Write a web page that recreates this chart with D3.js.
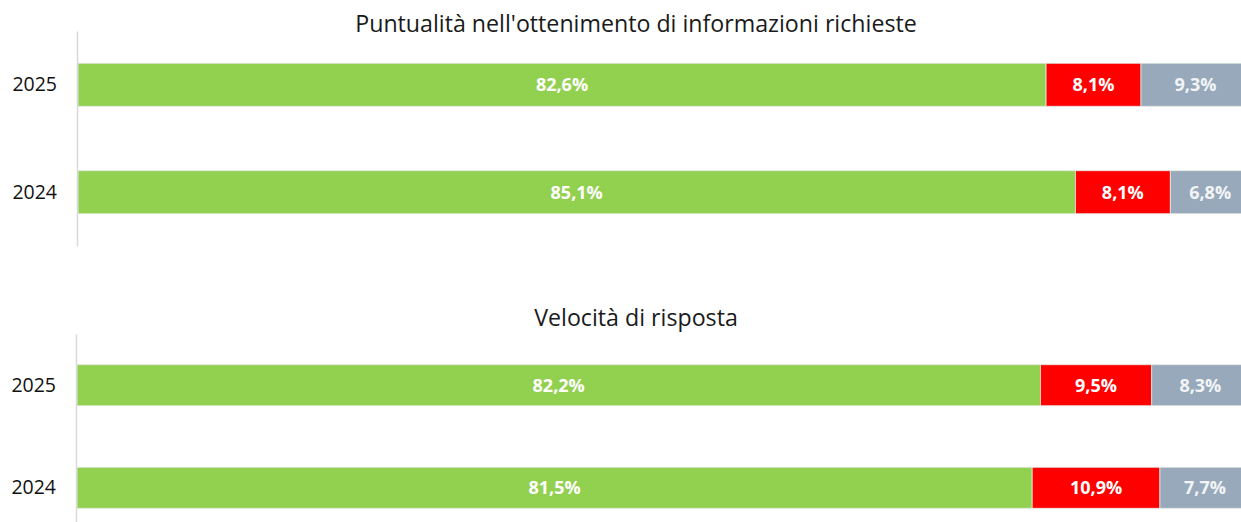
<!DOCTYPE html>
<html>
<head>
<meta charset="utf-8">
<script src="https://cdn.jsdelivr.net/npm/d3@7"></script>
<style>
  body { margin: 0; background: #fff; }
  svg { font-family: "Open Sans", sans-serif; display: block; }
</style>
</head>
<body>
<svg id="chart"></svg>
<script>
// data
var years = ["2025", "2024"];
var seriesNames = ["Positivo", "Negativo", "Non so"];
var seriesColors = ["#92d050", "#ff0000", "#97a9ba"];

var puntualitaPos = [82.6, 85.1],
    puntualitaNeg = [8.1, 8.1],
    puntualitaNs = [9.3, 6.8];

var velocitaPos = [82.2, 81.5],
    velocitaNeg = [9.5, 10.9],
    velocitaNs = [8.3, 7.7];

var titles = ["Puntualità nell'ottenimento di informazioni richieste", "Velocità di risposta"];

var width = 1241, height = 522;

var svg = d3.select("#chart")
    .attr("width", width)
    .attr("height", height);

var fmt = function (v) {
    return d3.format(".1f")(v).replace(".", ",") + "%";
};

function buildRows(pos, neg, ns) {
    return years.map(function (y, i) {
        return { year: y, values: [pos[i], neg[i], ns[i]] };
    });
}

function drawPanel(rows, title, top, bottom, axisX, titleY) {
    var g = svg.append("g").attr("class", "panel");

    var x = d3.scaleLinear()
        .domain([0, 100])
        .range([axisX + 1, axisX + 1 + 1172]);

    var y = d3.scaleBand()
        .domain(years)
        .range([top, bottom])
        .paddingInner(0.6)
        .paddingOuter(0.3);

    g.append("text")
        .attr("x", 636)
        .attr("y", titleY)
        .attr("text-anchor", "middle")
        .style("font-size", "23.2px")
        .style("fill", "#1a1a1a")
        .text(title);

    var stack = d3.stack()
        .keys([0, 1, 2])
        .value(function (d, k) { return d.values[k]; });
    var layers = stack(rows);

    layers.forEach(function (layer, k) {
        g.selectAll(".bar" + k)
            .data(layer)
            .enter().append("rect")
            .attr("class", "bar" + k)
            .attr("x", function (d) { return x(d[0]); })
            .attr("y", function (d) { return y(d.data.year); })
            .attr("width", function (d) { return x(d[1]) - x(d[0]); })
            .attr("height", y.bandwidth())
            .attr("fill", seriesColors[k])
            .attr("stroke", "#e4e8e0")
            .attr("stroke-width", 0.8);

        g.selectAll(".lbl" + k)
            .data(layer)
            .enter().append("text")
            .attr("class", "lbl" + k)
            .attr("x", function (d) { return (x(d[0]) + x(d[1])) / 2; })
            .attr("y", function (d) { return y(d.data.year) + y.bandwidth() / 2; })
            .attr("dy", "0.36em")
            .attr("text-anchor", "middle")
            .style("font-size", "18px")
            .style("font-weight", "bold")
            .style("fill", k == 2 ? "#f2f4f6" : "#ffffff")
            .text(function (d) { return fmt(d.data.values[k]); });
    });

    // axis line with year labels
    var yAxis = d3.axisLeft(y).tickSize(0).tickPadding(20);
    var ax = g.append("g")
        .attr("transform", "translate(" + axisX + ",0)")
        .call(yAxis);
    ax.select(".domain")
        .attr("stroke", "#d9d9d9")
        .attr("stroke-width", 1.5);
    ax.selectAll("text")
        .style("font-size", "19.5px")
        .style("font-weight", "500")
        .style("font-family", "Open Sans, sans-serif")
        .style("fill", "#111111");
}

drawPanel(buildRows(puntualitaPos, puntualitaNeg, puntualitaNs), titles[0], 31, 246, 77, 31.5);
drawPanel(buildRows(velocitaPos, velocitaNeg, velocitaNs), titles[1], 334, 539, 76, 326);
</script>
</body>
</html>
